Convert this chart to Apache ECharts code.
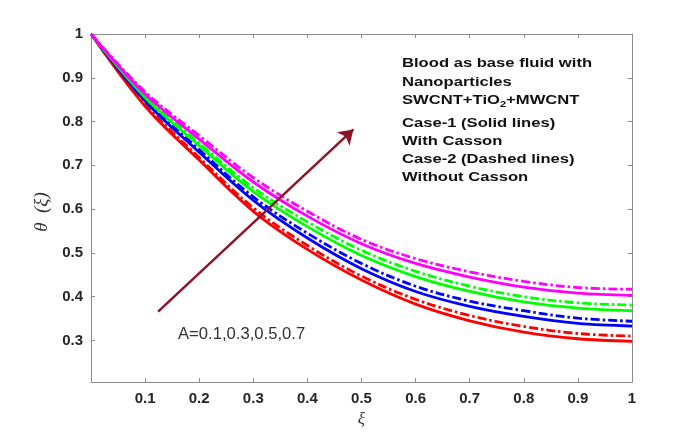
<!DOCTYPE html>
<html>
<head>
<meta charset="utf-8">
<script src="https://cdn.jsdelivr.net/npm/echarts@6/dist/echarts.min.js"></script>
<style>
html,body{margin:0;padding:0;background:#fff;}
#chart{width:700px;height:433px;}
</style>
</head>
<body>
<div id="chart"></div>
<script>
// ---- data ----
const xi = [0, 0.1, 0.2, 0.3, 0.4, 0.5, 0.6, 0.7, 0.8, 0.9, 1.0];
const xTicks = [0.1, 0.2, 0.3, 0.4, 0.5, 0.6, 0.7, 0.8, 0.9, 1];
const yTicks = [0.3, 0.4, 0.5, 0.6, 0.7, 0.8, 0.9, 1];

// Case-1 (solid, with Casson)
const redSolid     = [1, 0.835, 0.712, 0.595, 0.508, 0.438, 0.383, 0.345, 0.319, 0.304, 0.298];
const blueSolid    = [1, 0.847, 0.730, 0.620, 0.534, 0.464, 0.412, 0.378, 0.355, 0.339, 0.333];
const greenSolid   = [1, 0.855, 0.745, 0.640, 0.560, 0.494, 0.446, 0.412, 0.388, 0.374, 0.368];
const magentaSolid = [1, 0.863, 0.760, 0.662, 0.584, 0.521, 0.476, 0.445, 0.422, 0.408, 0.403];
// Case-2 (dash-dot, without Casson)
const redDashed     = [1, 0.840, 0.718, 0.603, 0.517, 0.447, 0.394, 0.357, 0.332, 0.316, 0.310];
const blueDashed    = [1, 0.850, 0.736, 0.628, 0.545, 0.476, 0.424, 0.390, 0.368, 0.351, 0.344];
const greenDashed   = [1, 0.858, 0.751, 0.649, 0.571, 0.506, 0.458, 0.424, 0.400, 0.386, 0.381];
const magentaDashed = [1, 0.868, 0.768, 0.672, 0.595, 0.531, 0.487, 0.457, 0.435, 0.421, 0.417];

const arrowFrom = [0.124, 0.366];
const arrowTo = [0.485, 0.782];

const legendLines = [
  'Blood as base fluid with',
  'Nanoparticles',
  '{b|SWCNT+TiO}{s|2}{b|+MWCNT}',
  'Case-1 (Solid lines)',
  'With Casson',
  'Case-2 (Dashed lines)',
  'Without Casson'
];
const annotation = 'A=0.1,0.3,0.5,0.7';

// ---- chart ----
const chart = echarts.init(document.getElementById('chart'));
const pairs = ys => xi.map((x, i) => [x, ys[i]]);
const dashDot = [9, 3, 2.5, 3];

function mk(name, ys, color, dashed, extra) {
  return Object.assign({
    name: name,
    type: 'line',
    data: pairs(ys),
    smooth: 0.35,
    showSymbol: false,
    symbol: 'none',
    silent: true,
    animation: false,
    lineStyle: { color: color, width: 2.8, type: dashed ? dashDot : 'solid' },
    z: 3
  }, extra || {});
}

const axisGray = '#8c8c8c';
const labelFont = { fontFamily: 'Liberation Sans, Arial, sans-serif', fontWeight: 'bold', fontSize: 15, color: '#262626' };

const legendY = [63, 82, 100, 123, 141, 159, 177];
const lf = 'bold 13.5px "Liberation Sans", Arial, sans-serif';
const graphics = legendLines.map((t, i) => ({
  type: 'text',
  x: 402, y: legendY[i],
  scaleX: 1.23,
  silent: true,
  style: {
    text: t,
    fill: '#111',
    font: lf,
    verticalAlign: 'middle',
    rich: {
      b: { font: lf, fill: '#111' },
      s: { font: 'bold 9px "Liberation Sans", Arial, sans-serif', fill: '#111', padding: [10, 0, 0, 0] }
    }
  }
}));
graphics.push({
  type: 'text', x: 178, y: 335, silent: true, scaleX: 1.04,
  style: { text: annotation, fill: '#333', font: '16px "Liberation Sans", Arial, sans-serif', verticalAlign: 'middle' }
});

const option = {
  backgroundColor: '#fff',
  animation: false,
  grid: { left: 91, right: 68, top: 34, bottom: 49, containLabel: false },
  xAxis: [{
    type: 'value', min: 0, max: 1, interval: 0.1,
    name: 'ξ', nameLocation: 'middle', nameGap: 19,
    nameTextStyle: { fontFamily: 'Liberation Serif, Times New Roman, serif', fontStyle: 'italic', fontSize: 17, color: '#333' },
    axisLine: { show: true, lineStyle: { color: axisGray, width: 1 } },
    axisTick: { show: true, inside: true, length: 4, lineStyle: { color: axisGray } },
    axisLabel: Object.assign({ margin: 9, formatter: v => (v === 0 ? '' : String(+v.toFixed(1))) }, labelFont),
    splitLine: { show: false }
  }, {
    type: 'value', min: 0, max: 1, interval: 0.1, position: 'top',
    axisLine: { show: true, onZero: false, lineStyle: { color: axisGray, width: 1 } },
    axisTick: { show: true, inside: true, length: 4, lineStyle: { color: axisGray } },
    axisLabel: { show: false },
    splitLine: { show: false }
  }],
  yAxis: [{
    type: 'value', min: 0.205, max: 1,
    name: 'θ  (ξ)', nameLocation: 'middle', nameGap: 33, nameRotate: 90,
    nameTextStyle: { fontFamily: 'Liberation Serif, Times New Roman, serif', fontStyle: 'italic', fontSize: 19, color: '#333', padding: [0, 0, 0, -8] },
    axisLine: { show: true, lineStyle: { color: axisGray, width: 1 } },
    axisTick: { show: true, inside: true, length: 4, lineStyle: { color: axisGray }, customValues: yTicks },
    axisLabel: Object.assign({ margin: 8, customValues: yTicks, formatter: v => String(+v.toFixed(1)) }, labelFont),
    splitLine: { show: false }
  }, {
    type: 'value', min: 0.205, max: 1, position: 'right',
    axisLine: { show: true, onZero: false, lineStyle: { color: axisGray, width: 1 } },
    axisTick: { show: true, inside: true, length: 4, lineStyle: { color: axisGray }, customValues: yTicks },
    axisLabel: { show: false },
    splitLine: { show: false }
  }],
  series: [
    mk('A=0.1 solid', redSolid, '#ff0000', false, {
      markLine: {
        silent: true, animation: false,
        symbol: ['none', 'arrow'], symbolSize: 14,
        label: { show: false },
        lineStyle: { color: '#8b1428', width: 2.5, type: 'solid' },
        data: [[{ coord: arrowFrom }, { coord: arrowTo }]]
      }
    }),
    mk('A=0.1 dashed', redDashed, '#ff0000', true),
    mk('A=0.3 solid', blueSolid, '#0000ff', false),
    mk('A=0.3 dashed', blueDashed, '#0000ff', true),
    mk('A=0.5 solid', greenSolid, '#00ff00', false),
    mk('A=0.5 dashed', greenDashed, '#00ff00', true),
    mk('A=0.7 solid', magentaSolid, '#ff00ff', false),
    mk('A=0.7 dashed', magentaDashed, '#ff00ff', true)
  ],
  graphic: graphics
};
chart.setOption(option);
</script>
</body>
</html>
